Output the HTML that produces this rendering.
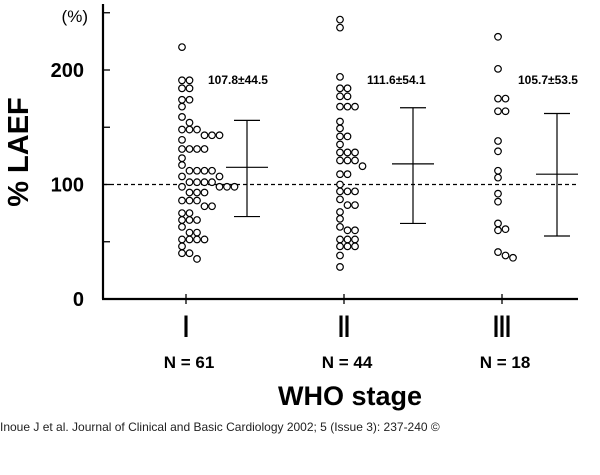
<!DOCTYPE html>
<html><head><meta charset="utf-8"><style>
body{margin:0;background:#fff;}
svg{display:block;font-family:"Liberation Sans",Arial,sans-serif;}
</style></head><body>
<svg id="chart" width="600" height="475" viewBox="0 0 600 475">
<g id="axes"></g>
<g id="marks"></g>
<text x="0" y="431" font-size="12" fill="#222">Inoue J et al. Journal of Clinical and Basic Cardiology 2002; 5 (Issue 3): 237-240 ©</text>
</svg>
<script>
const categories = ["I","II","III"];
const nLabels = ["N = 61","N = 44","N = 18"];
const statLabels = ["107.8\u00B144.5","111.6\u00B154.1","105.7\u00B153.5"];
const yTicks = [0,50,100,150,200,250];
const yTickLabels = ["0","","100","","200",""];
const meanVals = [115,118,109];
const upperVals = [156,167,162];
const lowerVals = [72,66,55];
const groupI = [220,191,191,184,184,174,174,168,159,154,148,148,148,143,143,143,139,131,131,131,131,123,117,112,112,112,112,107,107,102,102,102,102,98,98,98,98,93,93,93,86,86,86,81,81,75,75,69,69,69,63,58,58,52,52,52,52,46,40,40,35];
const groupII = [244,237,194,184,184,177,177,168,168,168,155,149,142,142,135,128,128,128,121,121,121,116,109,109,100,94,94,94,87,82,82,76,70,63,60,60,52,52,52,46,46,46,38,28];
const groupIII = [229,201,175,175,164,164,138,129,112,106,92,85,66,61,60,41,38,36];
const groups = [groupI, groupII, groupIII];

const NS="http://www.w3.org/2000/svg";
const x0=103, x1=578, yBase=299, pxPer=1.145;
const catX=[186,344,502];
function yS(v){return yBase - v*pxPer;}
function xS(i){return catX[i];}
function mk(tag,attrs,parent){const e=document.createElementNS(NS,tag);for(const k in attrs)e.setAttribute(k,attrs[k]);parent.appendChild(e);return e;}
const axes=document.getElementById('axes'), marks=document.getElementById('marks');

let e=mk('line',{x1:x0,y1:yBase,x2:x0,y2:4,stroke:'#000','stroke-width':2.2},axes);


e=mk('line',{x1:x0-1,y1:yBase,x2:x1,y2:yBase,stroke:'#000','stroke-width':2.2},axes);


yTicks.forEach((v,i)=>{
  const t=mk('line',{x1:x0,y1:yS(v),x2:x0+7,y2:yS(v),stroke:'#000','stroke-width':1.3},axes);
  
  
  if(yTickLabels[i]){
    const l=mk('text',{x:84,y:yS(v)+7,'text-anchor':'end','font-size':20,'font-weight':'bold'},axes);
    l.textContent=yTickLabels[i];
    
    
  }
});
e=mk('text',{x:88,y:22,'text-anchor':'end','font-size':17},axes);
e.textContent='(%)';


e=mk('text',{x:0,y:0,'text-anchor':'middle','font-size':29,'font-weight':'bold',transform:'translate(28,152) rotate(-90)'},axes);
e.textContent='% LAEF';


e=mk('line',{x1:x0,y1:yS(100),x2:x1,y2:yS(100),stroke:'#000','stroke-width':1.2,'stroke-dasharray':'4,3'},axes);


categories.forEach((c,i)=>{
  const t=mk('line',{x1:xS(i),y1:yBase-5,x2:xS(i),y2:yBase+5,stroke:'#000','stroke-width':1.3},axes);
  
  
  const l=mk('text',{x:xS(i),y:337,'text-anchor':'middle','font-size':27,'font-weight':'bold',transform:`translate(${xS(i)},0) scale(0.8,1.15) translate(${-xS(i)},${-337*0.15/1.15})`},axes);
  l.textContent=c;
  
  
  const n=mk('text',{x:xS(i)+3,y:368,'text-anchor':'middle','font-size':17,'font-weight':'bold'},axes);
  n.textContent=nLabels[i];
  
  
});
e=mk('text',{x:350,y:405,'text-anchor':'middle','font-size':27,'font-weight':'bold'},axes);
e.textContent='WHO stage';



const stX=[208,367,518];
const errX=[247,413,557];
groups.forEach((vals,gi)=>{
  const placed=[];
  const sorted=vals.slice().sort((a,b)=>b-a);
  sorted.forEach(v=>{
    const cy=yS(v);
    let col=0;
    while(placed.some(p=>p.col===col && Math.abs(p.cy-cy)<6.5)) col++;
    placed.push({col,cy});
    const c=mk('circle',{cx:xS(gi)-4+col*7.5,cy:cy,r:3.3,fill:'#fff',stroke:'#000','stroke-width':1.2},marks);
    
    
  });
  const ex=errX[gi];
  const g=mk('g',{},marks);
  
  
  mk('line',{x1:ex,y1:yS(upperVals[gi]),x2:ex,y2:yS(lowerVals[gi]),stroke:'#000','stroke-width':1.2},g);
  mk('line',{x1:ex-13,y1:yS(upperVals[gi]),x2:ex+13,y2:yS(upperVals[gi]),stroke:'#000','stroke-width':1.2},g);
  mk('line',{x1:ex-13,y1:yS(lowerVals[gi]),x2:ex+13,y2:yS(lowerVals[gi]),stroke:'#000','stroke-width':1.2},g);
  mk('line',{x1:ex-21,y1:yS(meanVals[gi]),x2:ex+21,y2:yS(meanVals[gi]),stroke:'#000','stroke-width':1.2},g);
  const s=mk('text',{x:stX[gi],y:84,'font-size':12,'font-weight':'bold'},marks);
  s.textContent=statLabels[gi];
  
  
});
</script>
</body></html>
